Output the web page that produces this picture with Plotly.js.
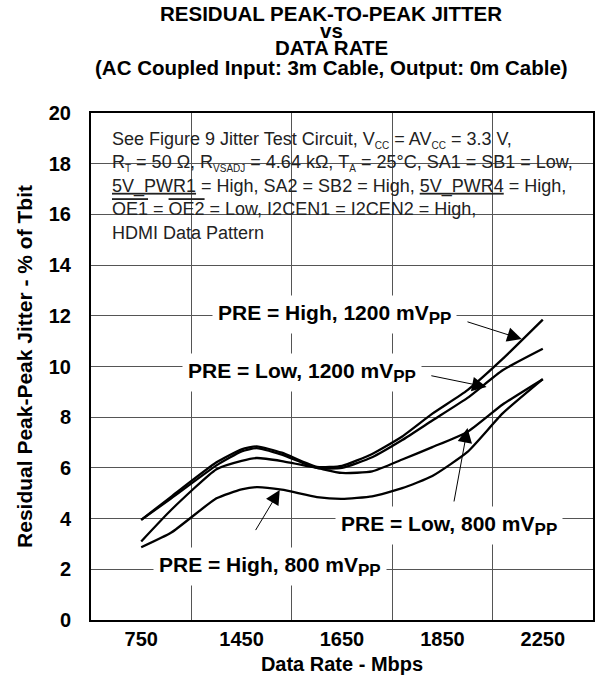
<!DOCTYPE html>
<html>
<head>
<meta charset="utf-8">
<script src="https://cdn.plot.ly/plotly-3.0.1.min.js"></script>
<style>html,body{margin:0;padding:0;background:#fff;}#chart{width:601px;height:683px;}</style>
</head>
<body>
<div id="chart"></div>
<script>
// Category tick labels (data rate, Mbps) – placed at the centre of each grid cell
const rateLabels = ['750', '1450', '1650', '1850', '2250'];
// Horizontal positions of the sampled points, in grid-cell units (0.5 = 750, 4.5 = 2250)
const xPos = [0.5, 0.8, 1.25, 1.5, 1.65, 1.9, 2.25, 2.5, 2.8, 3.1, 3.4, 3.75, 4.1, 4.5];
// Residual peak-peak jitter, % of Tbit
const highPre1200 = [3.95, 4.87, 6.22, 6.73, 6.85, 6.60, 6.04, 6.08, 6.55, 7.24, 8.14, 9.07, 10.30, 11.85];
const lowPre1200  = [3.95, 4.80, 6.10, 6.65, 6.78, 6.52, 6.00, 6.00, 6.42, 7.10, 7.87, 8.76, 9.85, 10.70];
const lowPre800   = [3.10, 4.35, 5.95, 6.28, 6.39, 6.27, 6.00, 5.80, 5.86, 6.33, 6.82, 7.42, 8.50, 9.50];
const highPre800  = [2.87, 3.45, 4.80, 5.15, 5.24, 5.14, 4.85, 4.78, 4.88, 5.20, 5.68, 6.63, 8.15, 9.50];
// Title lines
const titleLines = ['RESIDUAL PEAK-TO-PEAK JITTER', 'vs', 'DATA RATE', '(AC Coupled Input: 3m Cable, Output: 0m Cable)'];

const FONT = 'Liberation Sans, Arial, Helvetica, sans-serif';
const seriesList = [highPre1200, lowPre1200, lowPre800, highPre800];
const traces = seriesList.map(ys => ({
  x: xPos, y: ys, type: 'scatter', mode: 'lines',
  line: {color: '#000', width: 2.3, shape: 'spline', smoothing: 0.5},
  hoverinfo: 'skip', showlegend: false
}));

const sub = s => '<sub><span style="font-size:10px">' + s + '</span></sub>';
const boxText =
  'See Figure 9 Jitter Test Circuit, V' + sub('CC') + ' = AV' + sub('CC') + ' = 3.3 V,<br>' +
  'R' + sub('T') + ' = 50 Ω, R' + sub('VSADJ') + ' = 4.64 kΩ, T' + sub('A') + ' = 25°C, SA1 = SB1 = Low,<br>' +
  '<u>5V_PWR1</u> = High, SA2 = SB2 = High, <u>5V_PWR4</u> = High,<br>' +
  '<span style="text-decoration:overline">OE1</span> = <span style="text-decoration:overline">OE2</span> = Low, I2CEN1 = I2CEN2 = High,<br>' +
  'HDMI Data Pattern';

const labelFont = {family: FONT, size: 21, color: '#000', weight: 'bold'};
const pp = '<sub><span style="font-size:17px">PP</span></sub>';
function label(text, x, y) {
  return {text: text + pp, x: x, y: y, xref: 'x', yref: 'y', showarrow: false,
          bgcolor: '#fff', borderpad: 5, font: labelFont};
}
function arrow(tipX, tipY, tailX, tailY) {
  return {text: ' ', x: tipX, y: tipY, ax: tailX, ay: tailY, xref: 'x', yref: 'y',
          axref: 'x', ayref: 'y', showarrow: true, arrowhead: 2, arrowsize: 2.9,
          arrowwidth: 1, arrowcolor: '#000', standoff: 0, startstandoff: 0};
}
// plot area: 502 x 507 px; paper y from pixel row
const py = p => (620 - p) / 507;
const titleY = [13, 30, 47, 67];
const titleAnns = titleLines.map((t, i) => ({
  text: t, xref: 'paper', yref: 'paper', x: (331 - 91) / 502, y: py(titleY[i]),
  xanchor: 'center', yanchor: 'middle', showarrow: false,
  font: {family: FONT, size: 20.5, color: '#000', weight: 'bold'}
}));

const layout = {
  width: 601, height: 683,
  margin: {l: 91, r: 8, t: 113, b: 63},
  paper_bgcolor: '#fff', plot_bgcolor: '#fff',
  font: {family: FONT, color: '#000'},
  xaxis: {
    range: [0, 5], fixedrange: true,
    tickmode: 'array', tickvals: rateLabels.map((_, i) => i + 0.5), ticktext: rateLabels,
    ticks: '', showgrid: false, zeroline: false,
    minor: {tickmode: 'array', tickvals: [1, 2, 3, 4], showgrid: true, gridcolor: '#555', gridwidth: 1, ticks: ''},
    showline: true, mirror: true, linecolor: '#000', linewidth: 2,
    tickfont: {family: FONT, size: 20, color: '#000', weight: 'bold'},
    ticklabelstandoff: 0,
    title: {text: 'Data Rate - Mbps', font: {family: FONT, size: 20, color: '#000', weight: 'bold'}, standoff: 8}
  },
  yaxis: {
    range: [0, 20], fixedrange: true, dtick: 2, tick0: 0,
    ticks: '', showgrid: true, gridcolor: '#555', gridwidth: 1, zeroline: false,
    showline: true, mirror: true, linecolor: '#000', linewidth: 2,
    tickfont: {family: FONT, size: 20, color: '#000', weight: 'bold'},
    ticklabelstandoff: 14,
    title: {text: 'Residual Peak-Peak Jitter - % of Tbit', font: {family: FONT, size: 21, color: '#000', weight: 'bold'}, standoff: 10}
  },
  shapes: [{
    type: 'rect', layer: 'between', xref: 'paper', yref: 'paper',
    x0: 6 / 502, x1: 496 / 502, y0: py(245), y1: py(123),
    fillcolor: '#fff', line: {width: 0}
  }],
  annotations: titleAnns.concat([
    {text: boxText, xref: 'paper', yref: 'paper', x: 19 / 502, y: py(127),
     xanchor: 'left', yanchor: 'top', align: 'left', showarrow: false,
     font: {family: FONT, size: 18, color: '#222'}},
    label('PRE = High, 1200 mV', 2.43, 12.07),
    label('PRE = Low, 1200 mV', 2.10, 9.78),
    label('PRE = Low, 800 mV', 3.57, 3.71),
    label('PRE = High, 800 mV', 1.78, 2.13),
    arrow(4.29, 11.08, 3.72, 11.80),
    arrow(3.94, 9.19, 3.36, 9.66),
    arrow(3.75, 7.57, 3.60, 4.34),
    arrow(1.88, 5.13, 1.61, 3.35)
  ])
};

Plotly.newPlot('chart', traces, layout, {displayModeBar: false, staticPlot: true});
</script>
</body>
</html>
